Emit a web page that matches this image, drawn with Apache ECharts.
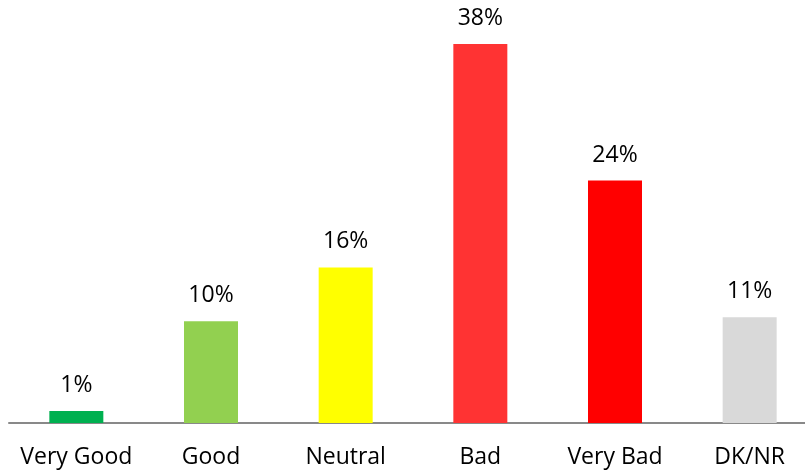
<!DOCTYPE html>
<html>
<head>
<meta charset="utf-8">
<script src="https://cdn.jsdelivr.net/npm/echarts@6/dist/echarts.min.js"></script>
<style>
    html, body { margin: 0; padding: 0; background: #fff; overflow: hidden; }
    #chart-bar { width: 817px; height: 475px; }
</style>
</head>
<body>
<div id="chart-bar"></div>
<script>
// 数据
var categories = ['Very Good', 'Good', 'Neutral', 'Bad', 'Very Bad', 'DK/NR'];
var values = [1.2, 10.2, 15.6, 38.0, 24.3, 10.6];
var barColors = ['#00B050', '#92D050', '#FFFF00', '#FF3333', '#FF0000', '#D9D9D9'];

var chart = echarts.init(document.getElementById('chart-bar'));

var option = {
    animation: false,
    grid: {
        left: 9,
        top: 24,
        bottom: 52,
        right: 0
    },
    xAxis: {
        type: 'category',
        data: categories,
        axisLine: {
            lineStyle: {
                color: '#898989',
                width: 2
            }
        },
        axisTick: { show: false },
        axisLabel: {
            interval: 0,
            color: '#000',
            fontFamily: 'Open Sans',
            fontSize: 23,
            margin: 23
        }
    },
    yAxis: {
        type: 'value',
        min: 0,
        max: 40,
        show: false
    },
    series: [{
        type: 'bar',
        barWidth: 54,
        data: values.map(function (v, i) {
            return { value: v, itemStyle: { color: barColors[i] } };
        }),
        label: {
            show: true,
            position: 'top',
            distance: 14,
            color: '#000',
            fontFamily: 'Open Sans',
            fontSize: 23,
            formatter: function (p) {
                return Math.round(p.value) + '%';
            }
        }
    }]
};

chart.setOption(option);
</script>
</body>
</html>
